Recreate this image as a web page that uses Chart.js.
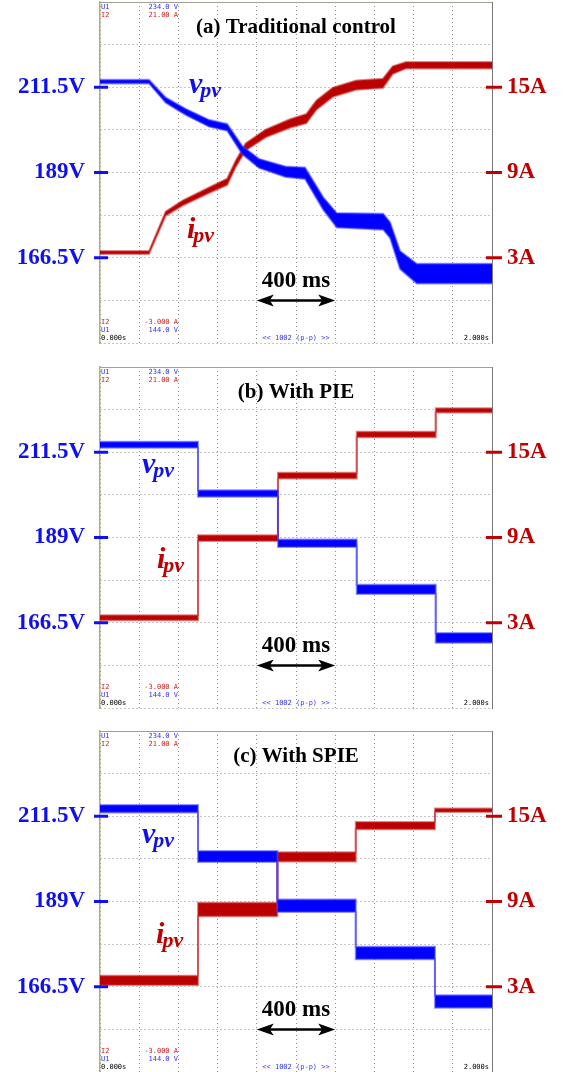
<!DOCTYPE html>
<html>
<head>
<meta charset="utf-8">
<script src="https://cdn.jsdelivr.net/npm/chart.js@4.4.1/dist/chart.umd.min.js"></script>
<style>
  html, body { margin: 0; padding: 0; background: #fff; }
  body { width: 563px; height: 1072px; overflow: hidden; position: relative; }
  .panel { position: absolute; left: 0; width: 563px; height: 345px; }
</style>
</head>
<body>
<div class="panel" style="top:0px"><canvas id="chartA" width="563" height="345"></canvas></div>
<div class="panel" style="top:365px"><canvas id="chartB" width="563" height="345"></canvas></div>
<div class="panel" style="top:729px"><canvas id="chartC" width="563" height="345"></canvas></div>
<script>
// labelled ticks on the two axes
const voltTicks = [166.5, 189, 211.5];
const ampTicks = [3, 9, 15];

// (a) Traditional control  (time in s, vpv in V, ipv in A, ripple = band width p-p)
const timeVA = [0, 0.25, 0.335, 0.437, 0.556, 0.649, 0.726, 0.811, 0.947, 1.046, 1.139, 1.208, 1.445, 1.48, 1.531, 1.616, 2];
const vpvA = [213.0, 213.0, 208.1, 205.0, 202.0, 200.9, 194.9, 191.4, 189.2, 188.8, 180.8, 176.4, 176.0, 173.8, 165.9, 162.3, 162.3];
const vRippleA = [1.0, 1.0, 1.4, 1.6, 1.8, 1.8, 2.2, 2.4, 2.8, 3.0, 3.3, 3.8, 4.2, 4.2, 4.8, 5.2, 5.2];
const timeIA = [0, 0.25, 0.335, 0.421, 0.556, 0.649, 0.692, 0.743, 0.845, 0.969, 1.053, 1.104, 1.188, 1.307, 1.443, 1.493, 1.561, 2];
const ipvA = [3.37, 3.37, 6.1, 6.85, 7.75, 8.35, 9.6, 10.8, 11.75, 12.45, 12.8, 13.75, 14.65, 15.15, 15.27, 16.2, 16.55, 16.55];
const iRippleA = [0.2, 0.2, 0.3, 0.35, 0.4, 0.45, 0.45, 0.5, 0.55, 0.6, 0.65, 0.65, 0.65, 0.65, 0.65, 0.55, 0.45, 0.45];

// (b) With PIE
const timeB = [0, 0.5, 0.5, 0.908, 0.908, 1.31, 1.31, 1.713, 1.713, 2];
const vpvB = [213.5, 213.5, 200.6, 200.6, 187.5, 187.5, 175.3, 175.3, 162.5, 162.5];
const vRippleB = [1.6, 1.6, 1.7, 1.7, 2.0, 2.0, 2.4, 2.4, 2.6, 2.6];
const ipvB = [3.35, 3.35, 8.96, 8.96, 13.35, 13.35, 16.25, 16.25, 17.94, 17.94];
const iRippleB = [0.35, 0.35, 0.4, 0.4, 0.4, 0.4, 0.4, 0.4, 0.3, 0.3];

// (c) With SPIE
const timeC = [0, 0.5, 0.5, 0.905, 0.905, 1.305, 1.305, 1.709, 1.709, 2];
const vpvC = [213.5, 213.5, 200.9, 200.9, 187.9, 187.9, 175.4, 175.4, 162.6, 162.6];
const vRippleC = [2.0, 2.0, 2.9, 2.9, 3.3, 3.3, 3.3, 3.3, 3.3, 3.3];
const ipvC = [3.45, 3.45, 8.43, 8.43, 12.14, 12.14, 14.34, 14.34, 15.42, 15.42];
const iRippleC = [0.65, 0.65, 0.95, 0.95, 0.65, 0.65, 0.5, 0.5, 0.25, 0.25];

const BLUE = '#0000ff';
const RED = '#bb0000';
const LBLUE = '#1010ee';
const LRED = '#c00000';
const GRID = '#8c8c8c';

function band(times, values, ripple, sign) {
    return times.map((t, k) => ({ x: t, y: values[k] + sign * ripple[k] / 2 }));
}

function drawSub(ctx, main, px, py, color) {
    ctx.fillStyle = color;
    ctx.textAlign = 'left';
    ctx.textBaseline = 'alphabetic';
    ctx.font = 'italic bold 30px "Liberation Serif"';
    ctx.fillText(main, px, py);
    const w = ctx.measureText(main).width;
    ctx.font = 'italic bold 22px "Liberation Serif"';
    ctx.fillText('pv', px + w - 2, py + 4);
}

const scopePlugin = {
    id: 'scope',
    afterDraw(chart, args, opts) {
        const ctx = chart.ctx;
        const area = chart.chartArea;
        const xs = chart.scales.x, yV = chart.scales.yV, yI = chart.scales.yI;
        ctx.save();

        // frame top
        ctx.strokeStyle = '#a0a090';
        ctx.lineWidth = 1;
        ctx.beginPath();
        ctx.moveTo(area.left, area.top + 0.5);
        ctx.lineTo(area.right, area.top + 0.5);
        ctx.stroke();

        // tick dashes
        ctx.lineWidth = 3;
        ctx.strokeStyle = LBLUE;
        voltTicks.forEach(v => {
            const y = yV.getPixelForValue(v);
            ctx.beginPath(); ctx.moveTo(area.left - 6, y); ctx.lineTo(area.left + 8, y); ctx.stroke();
        });
        ctx.strokeStyle = LRED;
        ampTicks.forEach(a => {
            const y = yI.getPixelForValue(a);
            ctx.beginPath(); ctx.moveTo(area.right - 6, y); ctx.lineTo(area.right + 10, y); ctx.stroke();
        });

        // scope readouts
        ctx.font = '7px "DejaVu Sans Mono"';
        ctx.textBaseline = 'top';
        const L = area.left + 1, R = area.left + 78;
        const readout = (txt, val, y, col) => {
            ctx.fillStyle = col;
            ctx.textAlign = 'left'; ctx.fillText(txt, L, y);
            ctx.textAlign = 'right'; ctx.fillText(val, R, y);
        };
        readout('U1', '234.0 V', area.top + 2, '#3030ff');
        readout('I2', '21.00 A', area.top + 10, '#d02020');
        readout('I2', '-3.000 A', area.bottom - 24, '#d02020');
        readout('U1', '144.0 V', area.bottom - 16, '#3030ff');
        ctx.fillStyle = '#000';
        ctx.textAlign = 'left'; ctx.fillText('0.000s', L, area.bottom - 8);
        ctx.textAlign = 'right'; ctx.fillText('2.000s', area.right - 3, area.bottom - 8);
        ctx.fillStyle = '#3030ff';
        ctx.textAlign = 'center'; ctx.fillText('<< 1002 (p-p) >>', (area.left + area.right) / 2, area.bottom - 8);

        // title
        ctx.fillStyle = '#000';
        ctx.textBaseline = 'alphabetic';
        ctx.textAlign = 'center';
        ctx.font = 'bold 21px "Liberation Serif"';
        ctx.fillText(opts.title, (area.left + area.right) / 2, area.top + 31);

        // 400 ms arrow
        const ay = yV.getPixelForValue(opts.arrow.v);
        const a1 = xs.getPixelForValue(opts.arrow.from);
        const a2 = xs.getPixelForValue(opts.arrow.to);
        ctx.strokeStyle = '#000';
        ctx.lineWidth = 2.5;
        ctx.beginPath(); ctx.moveTo(a1 + 10, ay); ctx.lineTo(a2 - 10, ay); ctx.stroke();
        ctx.beginPath();
        ctx.moveTo(a1, ay); ctx.lineTo(a1 + 17, ay - 6); ctx.lineTo(a1 + 13, ay); ctx.lineTo(a1 + 17, ay + 6);
        ctx.closePath(); ctx.fill();
        ctx.beginPath();
        ctx.moveTo(a2, ay); ctx.lineTo(a2 - 17, ay - 6); ctx.lineTo(a2 - 13, ay); ctx.lineTo(a2 - 17, ay + 6);
        ctx.closePath(); ctx.fill();
        ctx.font = 'bold 23px "Liberation Serif"';
        ctx.fillText('400 ms', (a1 + a2) / 2, ay - 13);

        // signal names
        drawSub(ctx, 'v', xs.getPixelForValue(opts.vLabel.t), yV.getPixelForValue(opts.vLabel.v), LBLUE);
        drawSub(ctx, 'i', xs.getPixelForValue(opts.iLabel.t), yV.getPixelForValue(opts.iLabel.v), LRED);

        ctx.restore();
    }
};

const tickFont = { family: '"Liberation Serif", serif', size: 23, weight: 'bold' };

function makeChart(id, s, notes) {
    new Chart(document.getElementById(id), {
        type: 'line',
        data: {
            datasets: [
                { data: band(s.tv, s.v, s.vr, -1), yAxisID: 'yV', borderColor: 'rgba(60,60,255,0.55)', fill: false },
                { data: band(s.tv, s.v, s.vr, 1), yAxisID: 'yV', borderColor: 'rgba(60,60,255,0.55)', backgroundColor: BLUE, fill: '-1' },
                { data: band(s.ti, s.i, s.ir, -1), yAxisID: 'yI', borderColor: 'rgba(200,40,40,0.55)', fill: false },
                { data: band(s.ti, s.i, s.ir, 1), yAxisID: 'yI', borderColor: 'rgba(200,40,40,0.55)', backgroundColor: RED, fill: '-1' }
            ]
        },
        options: {
            responsive: false,
            animation: false,
            devicePixelRatio: 1,
            layout: { padding: { top: 2, bottom: 2, left: 0, right: 0 } },
            elements: { point: { radius: 0 }, line: { tension: 0, borderWidth: 2 } },
            plugins: { legend: { display: false }, tooltip: { enabled: false }, scope: notes },
            scales: {
                x: {
                    type: 'linear', min: 0, max: 2,
                    ticks: { stepSize: 0.2, display: false },
                    grid: { color: GRID, drawTicks: false },
                    border: { display: false, dash: [1, 3] },
                    afterFit: sc => { sc.height = 0; sc.paddingLeft = 0; sc.paddingRight = 0; }
                },
                yV: {
                    position: 'left', min: 144, max: 234,
                    ticks: {
                        stepSize: 11.25, autoSkip: false, padding: 15, color: LBLUE, font: tickFont,
                        callback: v => voltTicks.includes(v) ? v + 'V' : ''
                    },
                    grid: { color: GRID, drawTicks: false },
                    border: { display: true, color: '#b0ae80', width: 1.5, dash: [1, 3] },
                    afterFit: sc => { sc.width = 100; sc.paddingTop = 0; sc.paddingBottom = 0; }
                },
                yI: {
                    position: 'right', min: -3, max: 21,
                    ticks: {
                        stepSize: 3, autoSkip: false, padding: 15, color: LRED, font: tickFont,
                        callback: v => ampTicks.includes(v) ? v + 'A' : ''
                    },
                    grid: { drawOnChartArea: false, drawTicks: false },
                    border: { display: true, color: '#777', width: 1 },
                    afterFit: sc => { sc.width = 71; sc.paddingTop = 0; sc.paddingBottom = 0; }
                }
            }
        },
        plugins: [scopePlugin]
    });
}

const arrow = { from: 0.8, to: 1.2, v: 155.25 };

makeChart('chartA',
    { tv: timeVA, v: vpvA, vr: vRippleA, ti: timeIA, i: ipvA, ir: iRippleA },
    { title: '(a) Traditional control', arrow: arrow, vLabel: { t: 0.454, v: 210.0 }, iLabel: { t: 0.444, v: 171.8 } });
makeChart('chartB',
    { tv: timeB, v: vpvB, vr: vRippleB, ti: timeB, i: ipvB, ir: iRippleB },
    { title: '(b) With PIE', arrow: arrow, vLabel: { t: 0.214, v: 205.9 }, iLabel: { t: 0.291, v: 181.0 } });
makeChart('chartC',
    { tv: timeC, v: vpvC, vr: vRippleC, ti: timeC, i: ipvC, ir: iRippleC },
    { title: '(c) With SPIE', arrow: arrow, vLabel: { t: 0.214, v: 204.5 }, iLabel: { t: 0.286, v: 178.1 } });
</script>
</body>
</html>
